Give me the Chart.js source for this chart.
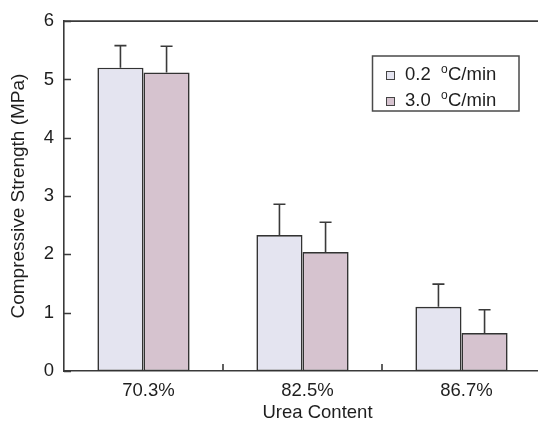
<!DOCTYPE html>
<html>
<head>
<meta charset="utf-8">
<script src="https://cdn.jsdelivr.net/npm/chart.js@4/dist/chart.umd.min.js"></script>
<style>
  html, body { margin: 0; padding: 0; background: #fff; overflow: hidden; }
  canvas { display: block; }
</style>
</head>
<body>
<canvas id="chart" width="541" height="423"></canvas>
<script>
// Urea content groups on the x axis
const categories = ['70.3%', '82.5%', '86.7%'];
// Cooling rates (legend): number part, superscript, unit
const rateLabels = ['0.2', '3.0'];
const rateSup = 'o';
const rateUnit = 'C/min';
// Compressive strength (MPa)
const slowRate = [5.20, 2.33, 1.10];
const fastRate = [5.12, 2.04, 0.65];
// Standard deviations (upper error bars)
const slowErr = [0.38, 0.53, 0.39];
const fastErr = [0.45, 0.51, 0.40];
// Y axis ticks
const yTicks = [0, 1, 2, 3, 4, 5, 6];
const xTitle = 'Urea Content';

const FONT = 'Liberation Sans, Arial, sans-serif';
const INK = '#1e1e1e';
const LINE = '#3a3a3a';

// Upward error bars with caps
const errorBars = {
  id: 'errorBars',
  afterDatasetsDraw(chart) {
    const ctx = chart.ctx;
    const y = chart.scales.y;
    ctx.save();
    ctx.strokeStyle = LINE;
    ctx.lineWidth = 1.6;
    chart.data.datasets.forEach((ds, di) => {
      const meta = chart.getDatasetMeta(di);
      meta.data.forEach((bar, i) => {
        const top = y.getPixelForValue(ds.data[i] + ds.errors[i]);
        const base = y.getPixelForValue(ds.data[i]);
        ctx.beginPath();
        ctx.moveTo(bar.x, base);
        ctx.lineTo(bar.x, top);
        ctx.moveTo(bar.x - 6, top);
        ctx.lineTo(bar.x + 6, top);
        ctx.stroke();
      });
    });
    ctx.restore();
  }
};

// Frame top line, inward tick marks and the x axis title
const frame = {
  id: 'frame',
  afterDraw(chart) {
    const ctx = chart.ctx;
    const a = chart.chartArea;
    const x = chart.scales.x;
    const y = chart.scales.y;
    ctx.save();
    ctx.strokeStyle = LINE;
    ctx.lineWidth = 1.6;
    ctx.beginPath();
    ctx.moveTo(a.left, a.top);
    ctx.lineTo(chart.width, a.top);
    ctx.stroke();
    ctx.beginPath();
    yTicks.forEach(v => {
      const py = Math.round(y.getPixelForValue(v)) + 0.5;
      ctx.moveTo(a.left, py);
      ctx.lineTo(a.left + 7, py);
    });
    for (let i = 0; i < categories.length - 1; i++) {
      const px = (x.getPixelForValue(i) + x.getPixelForValue(i + 1)) / 2;
      ctx.moveTo(px, a.bottom);
      ctx.lineTo(px, a.bottom - 7);
    }
    ctx.stroke();
    ctx.fillStyle = INK;
    ctx.font = '18.5px ' + FONT;
    ctx.textAlign = 'center';
    ctx.textBaseline = 'alphabetic';
    ctx.fillText(xTitle, x.getPixelForValue(1) + 15, 418);
    ctx.restore();
  }
};

// Boxed legend with superscript degree mark
const boxLegend = {
  id: 'boxLegend',
  afterDraw(chart) {
    const ctx = chart.ctx;
    ctx.save();
    ctx.strokeStyle = '#4a4a4a';
    ctx.lineWidth = 1.5;
    ctx.strokeRect(372.5, 56, 146.5, 55);
    const baselines = [80, 106];
    chart.data.datasets.forEach((ds, i) => {
      const b = baselines[i];
      ctx.fillStyle = ds.backgroundColor;
      ctx.fillRect(386, b - 9, 9, 9);
      ctx.strokeStyle = '#444';
      ctx.lineWidth = 1;
      ctx.strokeRect(386.5, b - 8.5, 8, 8);
      ctx.fillStyle = INK;
      ctx.textBaseline = 'alphabetic';
      ctx.textAlign = 'left';
      ctx.font = '18.5px ' + FONT;
      ctx.fillText(rateLabels[i], 405, b);
      ctx.font = '12px ' + FONT;
      ctx.fillText(rateSup, 441, b - 7);
      ctx.font = '18.5px ' + FONT;
      ctx.fillText(rateUnit, 448, b);
    });
    ctx.restore();
  }
};

new Chart(document.getElementById('chart'), {
  type: 'bar',
  data: {
    labels: categories,
    datasets: [
      {
        label: rateLabels[0] + ' ' + rateUnit,
        data: slowRate,
        errors: slowErr,
        backgroundColor: '#e4e4f0',
        borderColor: '#333',
        borderWidth: 1.6,
        borderSkipped: false
      },
      {
        label: rateLabels[1] + ' ' + rateUnit,
        data: fastRate,
        errors: fastErr,
        backgroundColor: '#d6c3cf',
        borderColor: '#333',
        borderWidth: 1.6,
        borderSkipped: false
      }
    ]
  },
  options: {
    responsive: false,
    animation: false,
    devicePixelRatio: 1,
    layout: { padding: { top: 16, left: 0, right: 0, bottom: 0 } },
    categoryPercentage: 0.58,
    barPercentage: 1.0,
    plugins: {
      legend: { display: false },
      tooltip: { enabled: false }
    },
    scales: {
      x: {
        grid: { display: false, drawTicks: false },
        border: { display: true, color: LINE, width: 1.6 },
        ticks: { color: INK, font: { family: FONT, size: 18.5 }, padding: 9, labelOffset: 5 },
        afterFit(scale) { scale.height = 52; }
      },
      y: {
        min: 0,
        max: 6,
        grid: { display: false, drawTicks: false },
        border: { display: true, color: LINE, width: 1.6 },
        ticks: {
          stepSize: 1,
          color: INK,
          font: { family: FONT, size: 18.5 },
          padding: 10
        },
        afterBuildTicks(scale) { scale.ticks = yTicks.map(v => ({ value: v })); },
        title: {
          display: true,
          text: 'Compressive Strength (MPa)',
          color: INK,
          font: { family: FONT, size: 19, lineHeight: 1 },
          padding: { top: 9, bottom: 0 }
        },
        afterFit(scale) { scale.width = 64; }
      }
    }
  },
  plugins: [errorBars, frame, boxLegend]
});
</script>
</body>
</html>
